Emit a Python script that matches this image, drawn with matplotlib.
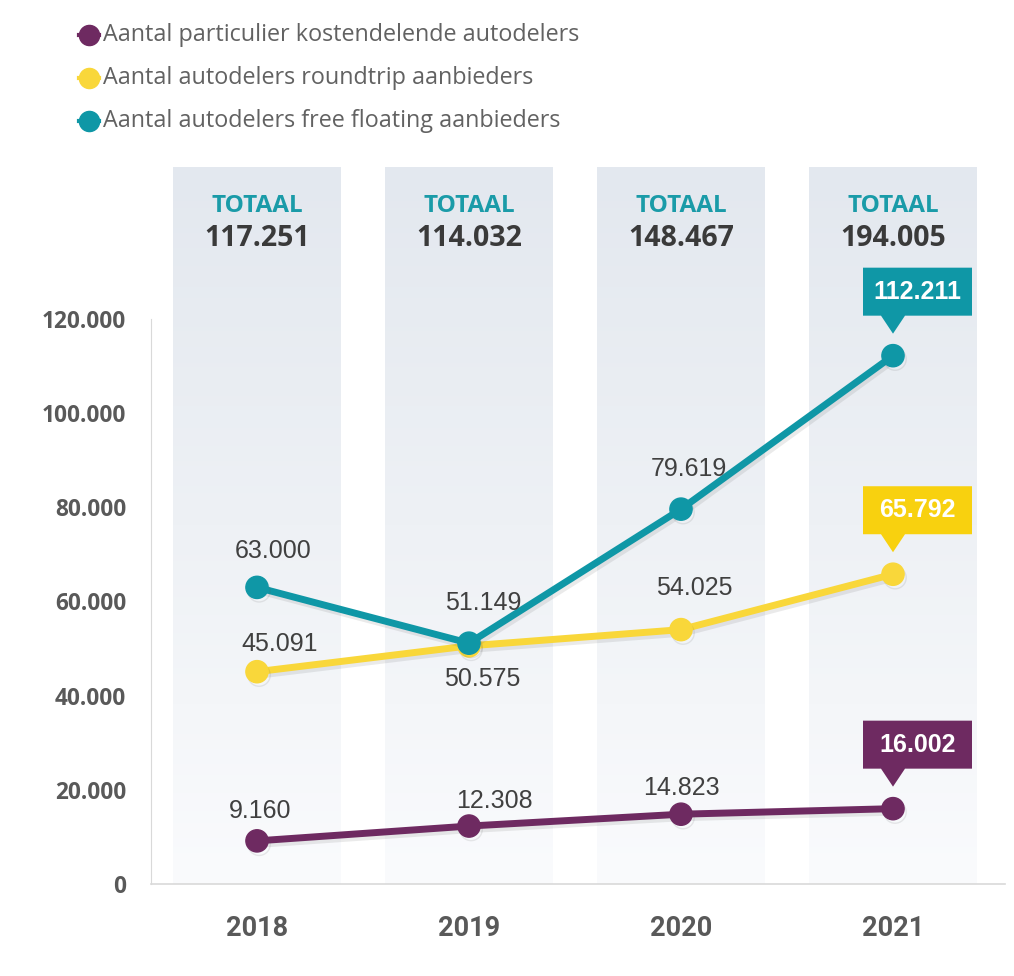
import matplotlib
matplotlib.use("Agg")
import matplotlib.pyplot as plt
import matplotlib.patheffects as pe
import matplotlib.transforms as mtransforms
from matplotlib.colors import LinearSegmentedColormap
from matplotlib.patches import Polygon
from matplotlib.lines import Line2D
import numpy as np

# ---------------- data ----------------
years = ["2018", "2019", "2020", "2021"]
particulier = [9160, 12308, 14823, 16002]
roundtrip = [45091, 50575, 54025, 65792]
free_floating = [63000, 51149, 79619, 112211]
totals = [117251, 114032, 148467, 194005]
series_names = [
    "Aantal particulier kostendelende autodelers",
    "Aantal autodelers roundtrip aanbieders",
    "Aantal autodelers free floating aanbieders",
]
yticks = [0, 20000, 40000, 60000, 80000, 100000, 120000]
ytick_labels = ["0", "20.000", "40.000", "60.000", "80.000", "100.000", "120.000"]

# ---------------- style ----------------
PURPLE = "#6e2a61"
YELLOW = "#f9d73a"
YELLOW_BOX = "#f8d10f"
TEAL = "#0f97a6"
TEXT = "#404040"
TICK = "#595959"

def fmt(v):
    return f"{v:,}".replace(",", ".")

W, H, DPI = 1014, 976, 100
fig = plt.figure(figsize=(W / DPI, H / DPI), dpi=DPI)

x0, x1 = -0.5, 3.53
ymax = 152283
ax_left_px, ax_right_px = 151, 151 + (x1 - x0) * 212
ax_bottom_px, ax_top_px = 884, 167
ax = fig.add_axes([ax_left_px / W, (H - ax_bottom_px) / H,
                   (ax_right_px - ax_left_px) / W, (ax_bottom_px - ax_top_px) / H])

xs = np.arange(len(years))

# background gradient bands
cmap = LinearSegmentedColormap.from_list("band", ["#e3e8ef", "#eef1f5", "#fafbfd"])
grad = np.linspace(0, 1, 256).reshape(-1, 1)
bw = 0.396
for x in xs:
    ax.imshow(grad, cmap=cmap, aspect="auto", origin="upper",
              extent=[x - bw, x + bw, 0, ymax], zorder=0, interpolation="bicubic")

ax.set_xlim(x0, x1)
ax.set_ylim(0, ymax)

# spines / ticks
for s in ["top", "right"]:
    ax.spines[s].set_visible(False)
ax.spines["left"].set_color("#d9d9d9")
ax.spines["left"].set_bounds(0, 120000)
ax.spines["bottom"].set_color("#d9d9d9")
ax.spines["bottom"].set_linewidth(1.2)
ax.set_yticks(yticks)
ax.set_yticklabels(ytick_labels, fontfamily="Open Sans", fontweight="bold",
                   fontsize=16.3, color=TICK)
ax.set_xticks(xs)
ax.set_xticklabels(years, fontfamily="Roboto", fontweight="bold",
                   fontsize=19.5, color=TICK)
ax.tick_params(axis="y", length=0, pad=18)
ax.tick_params(axis="x", length=0, pad=22)
ax.patch.set_alpha(0)

# lines
shadow = [pe.SimpleLineShadow(offset=(1.5, -2.5), shadow_color="#555555", alpha=0.12),
          pe.Normal()]
series = [particulier, roundtrip, free_floating]
colors = [PURPLE, YELLOW, TEAL]
box_colors = [PURPLE, YELLOW_BOX, TEAL]
for vals, c in zip(series, colors):
    ax.plot(xs, vals, color=c, lw=5, marker="o", ms=16, solid_capstyle="round",
            path_effects=shadow, zorder=3)

# value labels (pixel offsets from the point)
offsets = [
    [(3, 30), (25, 25), (0, 26)],
    [(23, 28), (13, -33), (13, 42)],
    [(16, 36), (14, 40), (8, 40)],
]
for vals, offs in zip(series, offsets):
    for x, v, (dx, dy) in zip(xs[:-1], vals[:-1], offs):
        ax.annotate(fmt(v), (x, v), xytext=(dx, dy), textcoords="offset pixels",
                    ha="center", va="center", fontsize=18, color=TEXT,
                    fontfamily="Liberation Sans", zorder=5)

# callouts for last point
for vals, c in zip(series, box_colors):
    x, v = xs[-1], vals[-1]
    trans = mtransforms.Affine2D() + mtransforms.ScaledTranslation(x, v, ax.transData)
    pts = [(-30, 40), (-12, 40), (0, 22), (12, 40), (79, 40), (79, 88), (-30, 88)]
    ax.add_patch(Polygon(pts, closed=True, facecolor=c, edgecolor="none",
                         transform=trans, zorder=6, clip_on=False))
    ax.annotate(fmt(v), (x, v), xytext=(24.5, 64), textcoords="offset pixels",
                ha="center", va="center", fontsize=18, color="white",
                fontweight="bold", fontfamily="Liberation Sans", zorder=7)

# totals
for x, t in zip(xs, totals):
    ax.text(x, 144100, "TOTAAL", ha="center", va="center", fontsize=17.5,
            fontweight="bold", fontfamily="Open Sans", color="#1a9ba8", zorder=5)
    ax.text(x, 137000, fmt(t), ha="center", va="center", fontsize=20.5,
            fontweight="bold", fontfamily="Open Sans", color="#3a3a3a", zorder=5)

# legend (manual, figure pixel coordinates)
lax = fig.add_axes([0, 0, 1, 1])
lax.set_xlim(0, W)
lax.set_ylim(H, 0)
lax.axis("off")
legend_y = [35, 78, 121]
for name, c, y in zip(series_names, colors, legend_y):
    lax.add_line(Line2D([79, 99], [y, y], color=c, lw=3))
    lax.add_line(Line2D([89], [y], color=c, marker="o", ms=14.5, lw=0))
    lax.text(103, y, name, ha="left", va="center", fontsize=16.8,
             fontfamily="Open Sans", color="#626262")

fig.savefig("out.png", dpi=DPI)
